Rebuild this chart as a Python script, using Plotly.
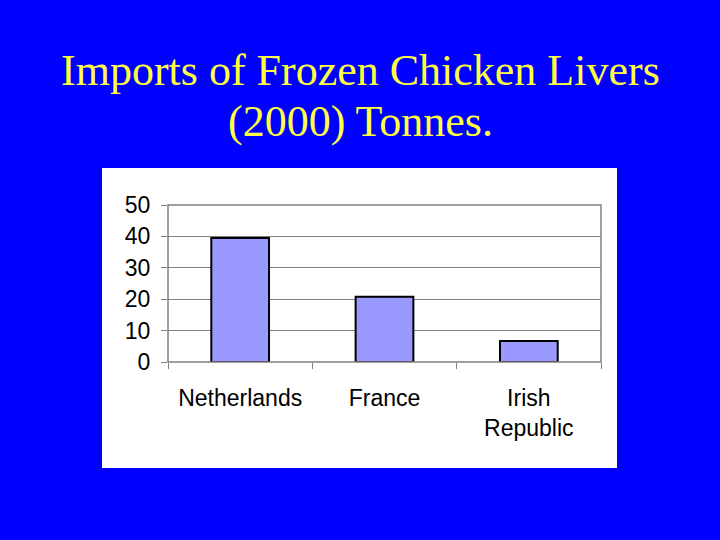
import plotly.graph_objects as go

categories = ["Netherlands", "France", "Irish<br>Republic"]
values = [39.5, 20.8, 6.7]
y_ticks = [0, 10, 20, 30, 40, 50]
title_lines = ["Imports of Frozen Chicken Livers", "(2000) Tonnes."]

fig = go.Figure()
fig.add_trace(go.Bar(
    x=categories, y=values,
    marker=dict(color="#9999FF", line=dict(color="black", width=2)),
    width=0.4,
))

title_font = dict(family="Liberation Serif", size=44, color="#FFFF40")
fig.update_layout(
    width=720, height=540,
    paper_bgcolor="#0000FF",
    plot_bgcolor="#C0C0C0",
    showlegend=False,
    margin=dict(l=168, r=119, t=205, b=178, autoexpand=False),
    shapes=[
        dict(type="rect", xref="paper", yref="paper", layer="below",
             x0=-66/433, x1=(617-168)/433, y0=-(468-362)/157, y1=(362-168)/157,
             fillcolor="white", line=dict(width=0)),
        dict(type="rect", xref="paper", yref="paper", layer="above",
             x0=0, x1=1, y0=0, y1=1, line=dict(color="#808080", width=1.5)),
    ],
    annotations=[
        dict(text=title_lines[0], xref="paper", yref="paper",
             x=(360-168)/433, y=(362-70)/157, xanchor="center", yanchor="middle",
             showarrow=False, font=title_font),
        dict(text=title_lines[1], xref="paper", yref="paper",
             x=(360-168)/433, y=(362-122)/157, xanchor="center", yanchor="middle",
             showarrow=False, font=title_font),
    ],
)
fig.update_yaxes(range=[0, 50], tickvals=y_ticks, showgrid=True, gridcolor="#808080",
                 gridwidth=1, ticks="outside", ticklen=6, tickcolor="#808080",
                 ticklabelstandoff=6,
                 tickfont=dict(family="Liberation Sans", size=23, color="black"),
                 zeroline=False, fixedrange=True)
fig.update_xaxes(tickson="boundaries", ticks="outside", ticklen=6, tickcolor="#808080",
                 ticklabelstandoff=20,
                 tickfont=dict(family="Liberation Sans", size=23, color="black"),
                 showgrid=False, fixedrange=True)

fig.write_html("out.html", config={"displayModeBar": False},
               post_script="document.body.style.margin='0';document.body.style.background='#0000FF';")
